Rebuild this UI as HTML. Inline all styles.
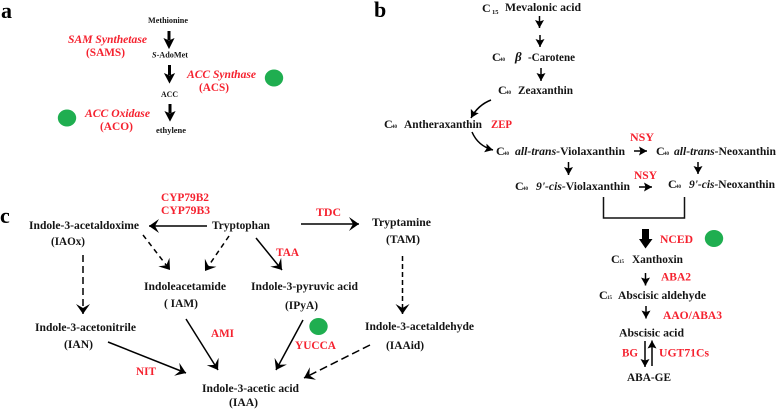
<!DOCTYPE html>
<html><head><meta charset="utf-8">
<style>
html,body{margin:0;padding:0;background:#fff}
svg{display:block;filter:blur(.3px)}
text{font-family:"Liberation Serif",serif;font-weight:bold;fill:#151515;font-size:11.5px}
.r{fill:#f5222f;font-size:12px}
.i{font-style:italic}
.s{font-size:5px}
.c{font-size:12px}
.a{font-size:8.500px}
.h{font-size:22px;fill:#000}
.l{stroke:#000;stroke-width:1.500;fill:none}
.t{stroke:#000;stroke-width:3;fill:none}
</style></head><body>
<svg width="778" height="409" viewBox="0 0 778 409" xmlns="http://www.w3.org/2000/svg">
<defs>
<marker id="f" markerUnits="userSpaceOnUse" markerWidth="12" markerHeight="12" refX="8" refY="5" orient="auto"><path d="M0,.5L8,5L0,9.500L1.500,5Z" fill="#000"/></marker>
<marker id="o" markerUnits="userSpaceOnUse" markerWidth="16" markerHeight="16" refX="10" refY="7" orient="auto"><path d="M0,0L10,7L0,14L4,7Z" fill="#000"/></marker>
</defs>

<!-- a -->
<text x="1" y="18" class="h">a</text>
<text x="148" y="23" class="a" textLength="40" lengthAdjust="spacingAndGlyphs">Methionine</text>
<text x="152" y="57.500" class="a" textLength="36" lengthAdjust="spacingAndGlyphs"><tspan class="i">S</tspan>-AdoMet</text>
<text x="161" y="97" class="a" textLength="17" lengthAdjust="spacingAndGlyphs">ACC</text>
<text x="156" y="133" class="a" textLength="30" lengthAdjust="spacingAndGlyphs">ethylene</text>
<path d="M169,31V40" class="t"/><path d="M164.500,39L169,48L173.500,39L169,41Z" stroke="#000"/>
<path d="M169.500,65V75" class="t"/><path d="M165,74L169.500,82.500L174,74L169.500,76Z" stroke="#000"/>
<path d="M170,104V113" class="t"/><path d="M165.500,112L170,120.500L174.500,112L170,114Z" stroke="#000"/>
<text x="68" y="43" class="r i" textLength="79" lengthAdjust="spacingAndGlyphs">SAM Synthetase</text>
<text x="86" y="56" class="r" textLength="39" lengthAdjust="spacingAndGlyphs">(SAMS)</text>
<text x="187" y="78" class="r i" textLength="69" lengthAdjust="spacingAndGlyphs">ACC Synthase</text>
<text x="199" y="91" class="r" textLength="30" lengthAdjust="spacingAndGlyphs">(ACS)</text>
<text x="85" y="117" class="r i" textLength="65" lengthAdjust="spacingAndGlyphs">ACC Oxidase</text>
<text x="100" y="130" class="r" textLength="33" lengthAdjust="spacingAndGlyphs">(ACO)</text>
<ellipse cx="274" cy="78" rx="9.200" ry="8.500" fill="#1fae50"/>
<ellipse cx="67" cy="118" rx="9.200" ry="8.500" fill="#1fae50"/>

<!-- b -->
<text x="374" y="17" class="h">b</text>
<text x="482" y="12" class="c">C</text><text x="492" y="14" style="font-size:6.500px">15</text>
<text x="505" y="11" textLength="76" lengthAdjust="spacingAndGlyphs">Mevalonic acid</text>
<path d="M539.500,16V28" class="l" marker-end="url(#f)"/>
<path d="M540,35V47" class="l" marker-end="url(#f)"/>
<text x="492" y="61" class="c">C</text><text x="500" y="61" class="s">40</text>
<text x="515" y="61" class="i" style="font-size:13px">β</text><text x="528" y="61" textLength="47" lengthAdjust="spacingAndGlyphs">-Carotene</text>
<path d="M541,68V81" class="l" marker-end="url(#f)"/>
<text x="498" y="94" class="c">C</text><text x="506" y="94" class="s">40</text>
<text x="518" y="94" textLength="55" lengthAdjust="spacingAndGlyphs">Zeaxanthin</text>
<path d="M491,100Q478,105 471,118" class="l" marker-end="url(#f)"/>
<text x="384" y="128" class="c">C</text><text x="392" y="128" class="s">40</text>
<text x="404" y="128" textLength="78" lengthAdjust="spacingAndGlyphs">Antheraxanthin</text>
<text x="491" y="128" class="r" textLength="21" lengthAdjust="spacingAndGlyphs">ZEP</text>
<path d="M472,132Q478,146 493,150" class="l" marker-end="url(#f)"/>
<text x="496" y="155" class="c">C</text><text x="504" y="155" class="s">40</text>
<text x="515" y="155" textLength="110" lengthAdjust="spacingAndGlyphs"><tspan class="i">all-trans-</tspan>Violaxanthin</text>
<text x="630" y="141" class="r" textLength="24" lengthAdjust="spacingAndGlyphs">NSY</text>
<path d="M634,151H647" class="l" marker-end="url(#f)"/>
<text x="656" y="155" class="c">C</text><text x="664" y="155" class="s">40</text>
<text x="674" y="155" textLength="102" lengthAdjust="spacingAndGlyphs"><tspan class="i">all-trans-</tspan>Neoxanthin</text>
<path d="M568.500,162V175" class="l" marker-end="url(#f)"/>
<path d="M698,162V174" class="l" marker-end="url(#f)"/>
<text x="515" y="190" class="c">C</text><text x="523" y="190" class="s">40</text>
<text x="536" y="190" textLength="94" lengthAdjust="spacingAndGlyphs"><tspan class="i">9'-cis-</tspan>Violaxanthin</text>
<text x="634" y="179" class="r" textLength="23" lengthAdjust="spacingAndGlyphs">NSY</text>
<path d="M639,187H652" class="l" marker-end="url(#f)"/>
<text x="668" y="188" class="c">C</text><text x="676" y="188" class="s">40</text>
<text x="689" y="188" textLength="86" lengthAdjust="spacingAndGlyphs"><tspan class="i">9'-cis-</tspan>Neoxanthin</text>
<path d="M603.500,197V218H684.500V197" stroke="#111" stroke-width="1.500" fill="none"/>
<path d="M642,229H649V239H652.500L645.500,248.500L639,239H642Z" fill="#000"/>
<text x="660" y="243" class="r" textLength="33" lengthAdjust="spacingAndGlyphs">NCED</text>
<ellipse cx="714" cy="238.500" rx="9.200" ry="8.500" fill="#1fae50"/>
<text x="611" y="263" class="c">C</text><text x="619" y="263" class="s">15</text>
<text x="632" y="263" textLength="51" lengthAdjust="spacingAndGlyphs">Xanthoxin</text>
<path d="M645.500,273V285.500" class="l" marker-end="url(#f)"/>
<text x="661" y="280.500" class="r" textLength="30" lengthAdjust="spacingAndGlyphs">ABA2</text>
<text x="599" y="299" class="c">C</text><text x="607" y="299" class="s">15</text>
<text x="618" y="299" textLength="88" lengthAdjust="spacingAndGlyphs">Abscisic aldehyde</text>
<path d="M646,306V318.500" class="l" marker-end="url(#f)"/>
<text x="663" y="319" class="r" textLength="59" lengthAdjust="spacingAndGlyphs">AAO/ABA3</text>
<text x="619" y="336.500" textLength="65" lengthAdjust="spacingAndGlyphs">Abscisic acid</text>
<path d="M645,341V367" class="l" marker-end="url(#f)"/>
<path d="M652,366V340.500" class="l" marker-end="url(#f)"/>
<text x="622" y="356.500" class="r" textLength="16" lengthAdjust="spacingAndGlyphs">BG</text>
<text x="659" y="356.500" class="r" textLength="50" lengthAdjust="spacingAndGlyphs">UGT71Cs</text>
<text x="627" y="381" textLength="44" lengthAdjust="spacingAndGlyphs">ABA-GE</text>

<!-- c -->
<text x="0" y="223" class="h">c</text>
<text x="29" y="229" textLength="110" lengthAdjust="spacingAndGlyphs">Indole-3-acetaldoxime</text>
<text x="51" y="245" textLength="34" lengthAdjust="spacingAndGlyphs">(IAOx)</text>
<text x="161" y="201" class="r" textLength="48" lengthAdjust="spacingAndGlyphs">CYP79B2</text>
<text x="161" y="214" class="r" textLength="49" lengthAdjust="spacingAndGlyphs">CYP79B3</text>
<text x="212" y="229" textLength="58" lengthAdjust="spacingAndGlyphs">Tryptophan</text>
<path d="M207,226H149" class="l" marker-end="url(#o)"/>
<path d="M143,235L170,270" class="l" style="stroke-dasharray:5 4" marker-end="url(#o)"/>
<path d="M229,236L205,271" class="l" style="stroke-dasharray:5 4" marker-end="url(#o)"/>
<path d="M83,255V314" class="l" style="stroke-dasharray:7 4" marker-end="url(#o)"/>
<text x="144" y="290" textLength="82" lengthAdjust="spacingAndGlyphs">Indoleacetamide</text>
<text x="164" y="307" textLength="34" lengthAdjust="spacingAndGlyphs">( IAM)</text>
<text x="35" y="331" textLength="101" lengthAdjust="spacingAndGlyphs">Indole-3-acetonitrile</text>
<text x="64" y="348" textLength="29" lengthAdjust="spacingAndGlyphs">(IAN)</text>
<path d="M186,319L218,370" class="l" marker-end="url(#o)"/>
<text x="211" y="337" class="r" textLength="23" lengthAdjust="spacingAndGlyphs">AMI</text>
<path d="M108,342L186,373" class="l" marker-end="url(#o)"/>
<text x="136" y="375" class="r" textLength="20" lengthAdjust="spacingAndGlyphs">NIT</text>
<text x="202" y="392" textLength="97" lengthAdjust="spacingAndGlyphs">Indole-3-acetic acid</text>
<text x="229" y="406" textLength="29" lengthAdjust="spacingAndGlyphs">(IAA)</text>
<path d="M256,238L282,270" class="l" marker-end="url(#o)"/>
<text x="276" y="256" class="r" textLength="23" lengthAdjust="spacingAndGlyphs">TAA</text>
<text x="316" y="216" class="r" textLength="25" lengthAdjust="spacingAndGlyphs">TDC</text>
<path d="M301,224H359" class="l" marker-end="url(#o)"/>
<text x="372" y="226" textLength="59" lengthAdjust="spacingAndGlyphs">Tryptamine</text>
<text x="386" y="243" textLength="34" lengthAdjust="spacingAndGlyphs">(TAM)</text>
<path d="M402.500,256V314" class="l" style="stroke-dasharray:5 3" marker-end="url(#o)"/>
<text x="251" y="290" textLength="107" lengthAdjust="spacingAndGlyphs">Indole-3-pyruvic acid</text>
<text x="285" y="309" textLength="33" lengthAdjust="spacingAndGlyphs">(IPyA)</text>
<ellipse cx="318.500" cy="326.500" rx="9.200" ry="8.500" fill="#1fae50"/>
<text x="295" y="349" class="r" textLength="41" lengthAdjust="spacingAndGlyphs">YUCCA</text>
<path d="M303,320L276,370" class="l" marker-end="url(#o)"/>
<text x="365" y="330" textLength="109" lengthAdjust="spacingAndGlyphs">Indole-3-acetaldehyde</text>
<text x="386" y="349" textLength="38" lengthAdjust="spacingAndGlyphs">(IAAid)</text>
<path d="M370,345L304,378" class="l" style="stroke-dasharray:8 4" marker-end="url(#o)"/>
</svg>
</body></html>
